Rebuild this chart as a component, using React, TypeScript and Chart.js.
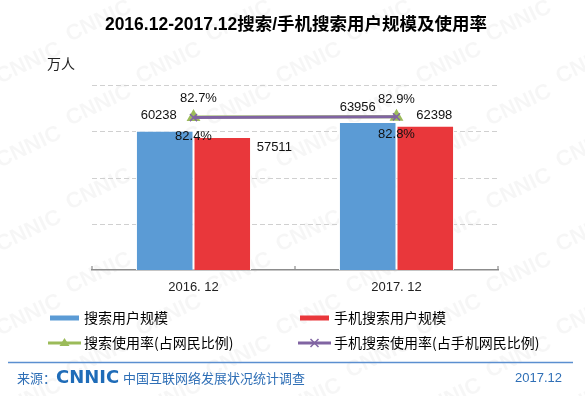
import React, { useEffect, useRef } from "react";
import { Chart, registerables } from "chart.js";

Chart.register(...registerables);

// ---- data ----
const categories = ["2016. 12", "2017. 12"];
const searchUsers = [60238, 63956];
const mobileSearchUsers = [57511, 62398];
const searchRate = [82.7, 82.9];
const mobileSearchRate = [82.4, 82.8];
const seriesNames = [
  "搜索用户规模",
  "手机搜索用户规模",
  "搜索使用率(占网民比例)",
  "手机搜索使用率(占手机网民比例)",
];
const titleText = "2016.12-2017.12搜索/手机搜索用户规模及使用率";
const unitText = "万人";
const sourceLabel = "来源：";
const sourceBrand = "CNNIC";
const sourceName = "中国互联网络发展状况统计调查";
const dateText = "2017.12";

// ---- styles ----
const BLUE = "#5b9bd5";
const RED = "#e9373b";
const GREEN = "#9bbb59";
const PURPLE = "#8064a2";
const FOOT_BLUE = "#2f6fb6";
const LATIN = '"Liberation Sans", Arial, "Noto Sans CJK SC"';
const CJK = '"Noto Sans CJK SC", "Liberation Sans"';

// label offsets relative to the element (style only)
const labelOffsets: number[][][] = [
  [[-6, -15], [-10, -15]],
  [[52, 10], [9, -10]],
  [[5, -19], [0, -17]],
  [[0, 19], [0, 18]],
];

const decorPlugin = {
  id: "decor",
  beforeDraw(chart: any) {
    const ctx = chart.ctx;
    ctx.save();
    ctx.fillStyle = "#ffffff";
    ctx.fillRect(0, 0, chart.width, chart.height);
    ctx.fillStyle = "rgba(0,0,0,0.035)";
    ctx.font = 'bold 22px "Liberation Sans"';
    for (let row = -2; row < 12; row++) {
      for (let col = -1; col < 6; col++) {
        ctx.save();
        ctx.translate(col * 140 + (row % 2) * 70, row * 42);
        ctx.rotate(-0.45);
        ctx.fillText("CNNIC", 0, 0);
        ctx.restore();
      }
    }
    ctx.restore();
  },
  beforeDatasetsDraw(chart: any) {
    const ctx = chart.ctx;
    const ca = chart.chartArea;
    const x = chart.scales.x;
    const y = chart.scales.y;
    // dashed horizontal grid lines from the y scale's ticks
    ctx.save();
    ctx.strokeStyle = "#d0d0d0";
    ctx.lineWidth = 1;
    ctx.setLineDash([5, 3]);
    y.ticks.forEach((t: any) => {
      const py = Math.round(y.getPixelForValue(t.value)) + 0.5;
      if (py >= ca.bottom - 1) return;
      ctx.beginPath();
      ctx.moveTo(ca.left, py);
      ctx.lineTo(ca.right, py);
      ctx.stroke();
    });
    ctx.restore();

    const n = chart.data.labels.length;
    const bounds: number[] = [ca.left, ca.right];
    for (let i = 0; i < n - 1; i++) {
      bounds.push((x.getPixelForTick(i) + x.getPixelForTick(i + 1)) / 2);
    }
    ctx.save();
    ctx.strokeStyle = "#8c8c8c";
    ctx.lineWidth = 1.2;
    bounds.forEach((bx) => {
      ctx.beginPath();
      ctx.moveTo(bx, ca.bottom);
      ctx.lineTo(bx, ca.bottom - 4);
      ctx.stroke();
    });
    ctx.restore();
  },
  afterDraw(chart: any) {
    const ctx = chart.ctx;
    ctx.save();
    // data labels
    ctx.font = `13px ${LATIN}`;
    ctx.fillStyle = "#111";
    ctx.textAlign = "center";
    ctx.textBaseline = "middle";
    chart.data.datasets.forEach((ds: any, i: number) => {
      const meta = chart.getDatasetMeta(i);
      meta.data.forEach((el: any, j: number) => {
        const v = ds.data[j];
        const txt = ds.type === "line" ? `${v.toFixed(1)}%` : String(v);
        const off = labelOffsets[i][j];
        ctx.fillText(txt, el.x + off[0], el.y + off[1]);
      });
    });

    // title
    ctx.font = `bold 17.5px ${LATIN}`;
    ctx.fillStyle = "#000";
    ctx.textAlign = "center";
    ctx.fillText(titleText, 296, 25);

    // unit
    ctx.font = `14px ${CJK}`;
    ctx.fillStyle = "#222";
    ctx.textAlign = "left";
    ctx.fillText(unitText, 47, 64);

    // legend
    const colX = [50, 300];
    const rowY = [318, 343];
    chart.data.datasets.forEach((ds: any, i: number) => {
      const sx = colX[i % 2];
      const sy = rowY[Math.floor(i / 2)];
      if (ds.type === "line") {
        ctx.strokeStyle = ds.borderColor;
        ctx.lineWidth = 3;
        ctx.beginPath();
        ctx.moveTo(sx - 2, sy);
        ctx.lineTo(sx + 31, sy);
        ctx.stroke();
        const cx = sx + 14.5;
        if (ds.pointStyle === "triangle") {
          ctx.fillStyle = ds.pointBackgroundColor;
          ctx.beginPath();
          ctx.moveTo(cx, sy - 5);
          ctx.lineTo(cx + 5, sy + 3);
          ctx.lineTo(cx - 5, sy + 3);
          ctx.closePath();
          ctx.fill();
        } else {
          ctx.strokeStyle = ds.pointBorderColor;
          ctx.lineWidth = 1.5;
          ctx.beginPath();
          ctx.moveTo(cx - 4, sy - 4);
          ctx.lineTo(cx + 4, sy + 4);
          ctx.moveTo(cx + 4, sy - 4);
          ctx.lineTo(cx - 4, sy + 4);
          ctx.stroke();
        }
      } else {
        ctx.fillStyle = ds.backgroundColor;
        ctx.fillRect(sx, sy - 2.5, 29, 5);
      }
      ctx.font = `14px ${CJK}`;
      ctx.fillStyle = "#000";
      ctx.textAlign = "left";
      ctx.textBaseline = "middle";
      ctx.fillText(ds.label, sx + 34, sy);
    });

    // footer
    ctx.strokeStyle = "#5b8fd0";
    ctx.lineWidth = 1.3;
    ctx.beginPath();
    ctx.moveTo(8, 362.5);
    ctx.lineTo(573, 362.5);
    ctx.stroke();

    ctx.fillStyle = FOOT_BLUE;
    ctx.font = `13px ${CJK}`;
    ctx.fillText(sourceLabel, 17, 378.5);
    ctx.font = 'bold 18px "DejaVu Sans"';
    ctx.fillStyle = "#1f6cb8";
    ctx.fillText(sourceBrand, 56, 378.5);
    ctx.font = `13px ${CJK}`;
    ctx.fillStyle = FOOT_BLUE;
    ctx.fillText(sourceName, 123, 378.5);
    ctx.font = `13px ${LATIN}`;
    ctx.textAlign = "right";
    ctx.fillText(dateText, 562, 378.5);
    ctx.restore();
  },
};

export default function App() {
  const ref = useRef<HTMLCanvasElement | null>(null);
  useEffect(() => {
    if (!ref.current) return;
    const chart = new Chart(ref.current, {
      data: {
        labels: categories,
        datasets: [
          {
            type: "bar",
            label: seriesNames[0],
            data: searchUsers,
            backgroundColor: BLUE,
            borderColor: "#ffffff",
            borderWidth: 1,
            yAxisID: "y",
            order: 3,
          },
          {
            type: "bar",
            label: seriesNames[1],
            data: mobileSearchUsers,
            backgroundColor: RED,
            borderColor: "#ffffff",
            borderWidth: 1,
            yAxisID: "y",
            order: 4,
          },
          {
            type: "line",
            label: seriesNames[2],
            data: searchRate,
            borderColor: GREEN,
            borderWidth: 3,
            pointStyle: "triangle",
            pointRadius: 5,
            pointBackgroundColor: GREEN,
            pointBorderColor: GREEN,
            yAxisID: "y1",
            order: 2,
          },
          {
            type: "line",
            label: seriesNames[3],
            data: mobileSearchRate,
            borderColor: PURPLE,
            borderWidth: 3,
            pointStyle: "crossRot",
            pointRadius: 5,
            pointBorderWidth: 1.5,
            pointBackgroundColor: PURPLE,
            pointBorderColor: PURPLE,
            yAxisID: "y1",
            order: 1,
          },
        ] as any,
      },
      options: {
        responsive: false,
        animation: false,
        layout: { padding: { left: 0, right: 87, top: 85, bottom: 0 } },
        plugins: {
          legend: { display: false },
          title: { display: false },
          tooltip: { enabled: false },
        },
        datasets: {
          bar: { categoryPercentage: 0.567, barPercentage: 1 },
        } as any,
        scales: {
          x: {
            offset: true,
            grid: { display: false, drawTicks: false },
            border: { display: true, color: "#8c8c8c", width: 1.5 },
            ticks: {
              color: "#222",
              font: { family: LATIN, size: 13 },
              padding: 10,
            },
            afterFit: (s: any) => {
              s.height = 126;
            },
          },
          y: {
            min: 0,
            max: 80000,
            ticks: { display: false, stepSize: 20000 },
            grid: { display: false, drawTicks: false },
            border: { display: false },
            afterFit: (s: any) => {
              s.width = 92;
            },
          },
          y1: {
            display: false,
            min: 0,
            max: 100,
            position: "right",
          },
        },
      } as any,
      plugins: [decorPlugin],
    });
    return () => chart.destroy();
  }, []);
  return (
    <div style={{ position: "absolute", left: 0, top: 0, width: 585, height: 396 }}>
      <canvas ref={ref} width={585} height={396} style={{ width: 585, height: 396 }} />
    </div>
  );
}
